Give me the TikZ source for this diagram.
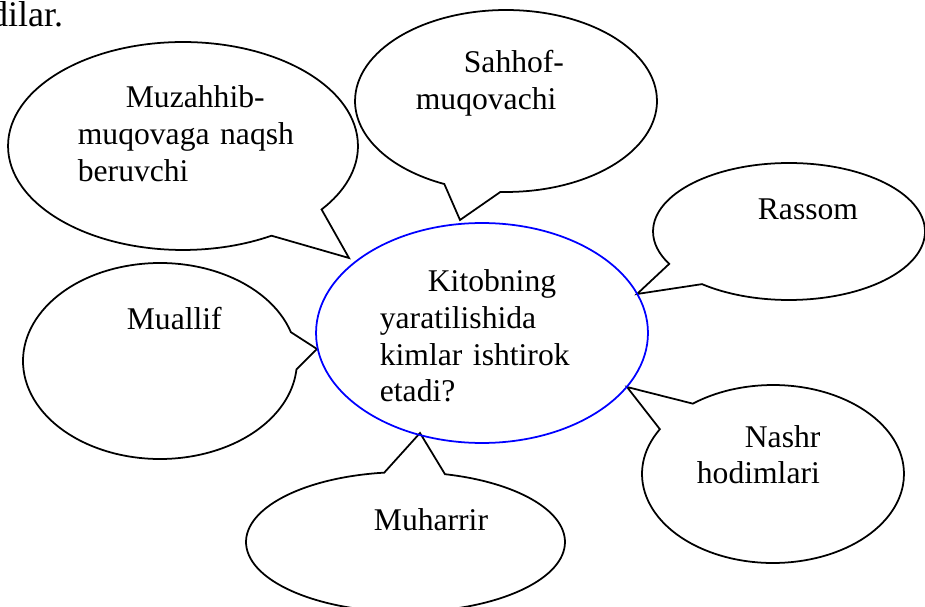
\documentclass[tikz,border=0pt]{standalone}
\usepackage{fontspec}
\setmainfont{Liberation Serif}
\usetikzlibrary{shapes, positioning}

\begin{document}
\begin{tikzpicture}[x=0.02cm, y=-0.02cm, line width=1pt]
	\tikzstyle{bubble} = [draw, ellipse callout, inner sep=0pt, outer sep=0pt, callout pointer arc=22]
	\tikzstyle{words} = [inner sep=0pt, anchor=base west, align=left, text width=6cm, font=\fontsize{18}{20.8}\selectfont]

	\useasboundingbox (0,0) rectangle (925,607);
	\clip (0,0) rectangle (925,607);

	\node[inner sep=0pt, anchor=base east, font=\fontsize{20.5}{24}\selectfont] (prev) at (64,27) {dilar.};

	% where the tails end
	\coordinate (tipMuz) at (349,258);
	\coordinate (tipSah) at (460,220);
	\coordinate (tipRas) at (637,294);
	\coordinate (tipMua) at (317,349);
	\coordinate (tipMuh) at (420,433);
	\coordinate (tipNas) at (627,387);

	\node[bubble, minimum width=7cm, minimum height=4.16cm, callout absolute pointer={(tipMuz)}] (muz) at (183,146) {};
	\node[bubble, minimum width=6.04cm, minimum height=3.64cm, callout absolute pointer={(tipSah)}] (sah) at (506,101) {};
	\node[bubble, minimum width=5.44cm, minimum height=2.74cm, callout absolute pointer={(tipRas)}] (ras) at (789,231.5) {};
	\node[bubble, minimum width=5.48cm, minimum height=3.92cm, callout absolute pointer={(tipMua)}] (mua) at (160,361) {};
	\node[bubble, minimum width=6.38cm, minimum height=2.8cm, callout absolute pointer={(tipMuh)}] (muh) at (405.5,542) {};
	\node[bubble, minimum width=5.24cm, minimum height=3.56cm, callout absolute pointer={(tipNas)}] (nas) at (773,474) {};

	\node[draw=blue, ellipse, minimum width=6.64cm, minimum height=4.4cm, inner sep=0pt] (q) at (482,333) {};

	\node[words] (qText) at (379,292) {\hspace*{0.96cm}Kitobning\\yaratilishida\\kimlar ishtirok\\etadi?};
	\node[words] (muzText) at (77,108) {\hspace*{0.96cm}Muzahhib-\\muqovaga naqsh\\beruvchi};
	\node[words] (sahText) at (415,73) {\hspace*{0.96cm}Sahhof-\\muqovachi};
	\node[words] (rasText) at (757,220) {Rassom};
	\node[words] (muaText) at (126,330) {Muallif};
	\node[words] (muhText) at (373,530) {Muharrir};
	\node[words] (nasText) at (696,447) {\hspace*{0.96cm}Nashr\\hodimlari};
\end{tikzpicture}
\end{document}
